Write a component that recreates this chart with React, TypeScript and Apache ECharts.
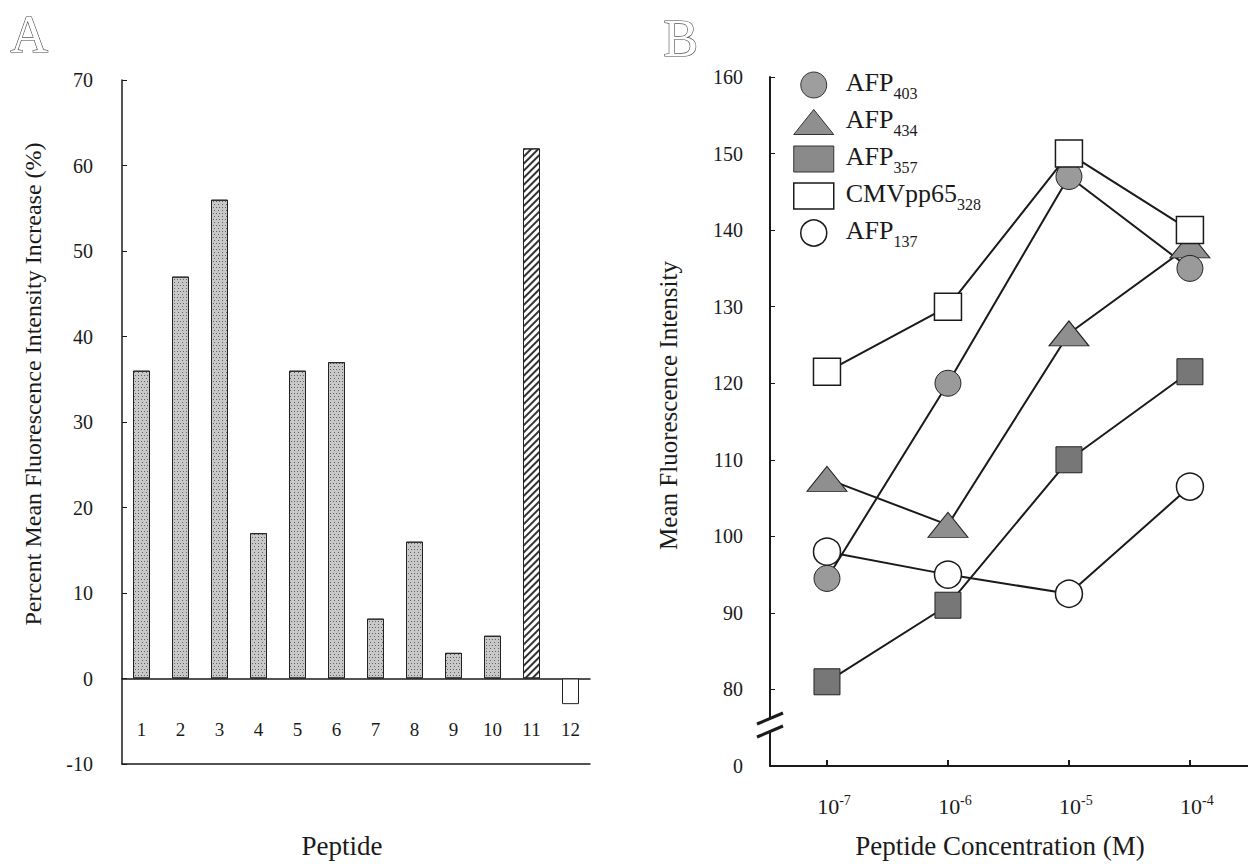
import React, { useEffect, useRef } from "react";
import * as echarts from "echarts";

// ---- Panel A data ----
const peptides = ["1", "2", "3", "4", "5", "6", "7", "8", "9", "10", "11", "12"];
const mfiIncrease = [36, 47, 56, 17, 36, 37, 7, 16, 3, 5, 62, -3];
const yTicksA = { min: -10, max: 70, step: 10 };

// ---- Panel B data ----
const concExponents = [-7, -6, -5, -4]; // log10 of peptide concentration (M)
const afp403 = [94.5, 120, 147, 135];
const afp434 = [107.5, 101.5, 126.5, 138];
const afp357 = [81, 91, 110, 121.5];
const cmvpp65 = [121.5, 130, 150, 140];
const afp137 = [98, 95, 92.5, 106.5];
const yTicksB = [80, 90, 100, 110, 120, 130, 140, 150, 160];

const FONT = "'Liberation Serif', 'Times New Roman', serif";
const INK = "#1a1a1a";

const legendNames: Record<string, [string, string]> = {
  AFP403: ["AFP", "403"],
  AFP434: ["AFP", "434"],
  AFP357: ["AFP", "357"],
  CMVpp65328: ["CMVpp65", "328"],
  AFP137: ["AFP", "137"],
};

const stipple = {
  symbol: "rect",
  symbolSize: 1,
  dashArrayX: [[1, 1.5], [0, 1.25, 1, 0.25]],
  dashArrayY: [1, 1.2],
  color: "rgba(30,30,30,0.6)",
};

export default function App() {
  const ref = useRef<HTMLDivElement>(null);
  useEffect(() => {
    if (!ref.current) return;
    const chart = echarts.init(ref.current, null, { renderer: "svg" });

    const barData = mfiIncrease.map((v, i) => {
      if (i === 10) {
        return {
          value: v,
          itemStyle: {
            color: "#ffffff",
            decal: {
              symbol: "rect",
              symbolSize: 1,
              dashArrayX: [1, 0],
              dashArrayY: [1.5, 3],
              rotation: -Math.PI / 4,
              color: "#333",
            },
          },
        };
      }
      if (v < 0) return { value: v, itemStyle: { color: "#ffffff" } };
      return { value: v, itemStyle: { color: "#c8c8c8", decal: stipple } };
    });

    const mk = (arr: number[]) => concExponents.map((x, i) => [x, arr[i]]);
    const lineCommon = {
      type: "line",
      xAxisIndex: 2,
      yAxisIndex: 1,
      lineStyle: { color: INK, width: 2 },
      z: 3,
    };

    chart.setOption({
      animation: false,
      backgroundColor: "#ffffff",
      textStyle: { fontFamily: FONT, color: INK },
      grid: [
        { left: 122, top: 80, width: 468, height: 685 },
        { left: 770, top: 77, width: 478, height: 689 },
      ],
      xAxis: [
        {
          type: "category",
          gridIndex: 0,
          data: peptides,
          axisLine: { onZero: true, lineStyle: { color: INK, width: 1.5 } },
          axisTick: { show: false },
          axisLabel: { margin: -44, fontSize: 19, color: INK, fontFamily: FONT },
          splitLine: { show: false },
        },
        {
          type: "category",
          gridIndex: 0,
          data: peptides,
          position: "bottom",
          axisLine: { onZero: false, lineStyle: { color: INK, width: 1.5 } },
          axisTick: { show: false },
          axisLabel: { show: false },
          name: "Peptide",
          nameLocation: "middle",
          nameGap: 68,
          nameTextStyle: { fontSize: 27, color: INK, fontFamily: FONT, padding: [0, 28, 0, 0] },
        },
        {
          type: "value",
          gridIndex: 1,
          min: -7.471,
          max: -3.52,
          axisLine: { onZero: false, lineStyle: { color: INK, width: 2 } },
          axisTick: { inside: true, length: 6, customValues: concExponents, lineStyle: { color: INK, width: 2 } },
          axisLabel: {
            customValues: concExponents,
            margin: 27,
            fontSize: 22,
            padding: [0, 0, 0, 14],
            formatter: (v: number) => `{b|10}{s|${v}}`,
            rich: {
              b: { fontSize: 22, fontFamily: FONT, color: INK, verticalAlign: "bottom" },
              s: { fontSize: 14, fontFamily: FONT, color: INK, verticalAlign: "bottom", padding: [0, 0, 10, 0] },
            },
          },
          splitLine: { show: false },
          name: "Peptide Concentration (M)",
          nameLocation: "middle",
          nameGap: 66,
          nameTextStyle: { fontSize: 27, color: INK, fontFamily: FONT, padding: [0, 18, 0, 0] },
        },
      ],
      yAxis: [
        {
          type: "value",
          gridIndex: 0,
          min: yTicksA.min,
          max: yTicksA.max,
          interval: yTicksA.step,
          axisLine: { show: true, lineStyle: { color: INK, width: 1.5 } },
          axisTick: { show: true, inside: true, length: 5, lineStyle: { color: INK } },
          axisLabel: { margin: 29, fontSize: 20, color: INK, fontFamily: FONT },
          splitLine: { show: false },
          name: "Percent Mean Fluorescence Intensity Increase (%)",
          nameLocation: "middle",
          nameRotate: 90,
          nameGap: 77,
          nameTextStyle: { fontSize: 24, color: INK, fontFamily: FONT, padding: [0, 0, 0, 76] },
        },
        {
          type: "value",
          gridIndex: 1,
          min: 70,
          max: 160,
          interval: 10,
          axisLine: { show: true, lineStyle: { color: INK, width: 2 } },
          axisTick: { show: true, inside: true, length: 5, customValues: yTicksB, lineStyle: { color: INK } },
          axisLabel: {
            margin: 27,
            fontSize: 20,
            color: INK,
            fontFamily: FONT,
            formatter: (v: number) => (v === 70 ? "0" : String(v)),
          },
          splitLine: { show: false },
          name: "Mean Fluorescence Intensity",
          nameLocation: "middle",
          nameRotate: 90,
          nameGap: 89,
          nameTextStyle: { fontSize: 25, color: INK, fontFamily: FONT, padding: [0, 0, 0, 32] },
        },
      ],
      legend: {
        orient: "vertical",
        left: 788,
        top: 64,
        itemWidth: 40,
        itemHeight: 26,
        itemGap: 5,
        symbolKeepAspect: true,
        selectedMode: false,
        formatter: (name: string) => {
          const p = legendNames[name] || [name, ""];
          return `{a|${p[0]}}{s|${p[1]}}`;
        },
        textStyle: {
          padding: [0, 0, 0, 7],
          rich: {
            a: { fontSize: 26, fontFamily: FONT, color: INK, verticalAlign: "bottom", padding: [0, 0, 6, 0] },
            s: { fontSize: 16, fontFamily: FONT, color: INK, verticalAlign: "bottom" },
          },
        },
        data: [
          { name: "AFP403", icon: "circle", itemStyle: { color: "#9e9e9e", borderColor: "#333", borderWidth: 1 } },
          { name: "AFP434", icon: "path://M20,0 L40,25 L0,25 Z", itemStyle: { color: "#8f8f8f", borderColor: "#333", borderWidth: 1 } },
          { name: "AFP357", icon: "rect", itemStyle: { color: "#8a8a8a", borderColor: "#333", borderWidth: 1 } },
          { name: "CMVpp65328", icon: "rect", itemStyle: { color: "#ffffff", borderColor: INK, borderWidth: 1.5 } },
          { name: "AFP137", icon: "circle", itemStyle: { color: "#ffffff", borderColor: INK, borderWidth: 1.5 } },
        ],
      },
      graphic: [
        {
          type: "text",
          left: 10,
          top: 8,
          style: { text: "A", font: `52px ${FONT}`, fill: "#ffffff", stroke: "#444", lineWidth: 1.2 },
        },
        {
          type: "text",
          left: 663,
          top: 12,
          style: { text: "B", font: `52px ${FONT}`, fill: "#ffffff", stroke: "#444", lineWidth: 1.2 },
        },
        // axis break on panel B's y axis
        { type: "rect", shape: { x: 764, y: 719, width: 12, height: 13 }, style: { fill: "#fff" }, z: 50 },
        { type: "line", shape: { x1: 757, y1: 724, x2: 783, y2: 713 }, style: { stroke: INK, lineWidth: 3 }, z: 51 },
        { type: "line", shape: { x1: 757, y1: 737, x2: 783, y2: 726 }, style: { stroke: INK, lineWidth: 3 }, z: 51 },
      ],
      series: [
        {
          type: "bar",
          xAxisIndex: 0,
          yAxisIndex: 0,
          data: barData,
          barWidth: 17,
          itemStyle: { borderColor: "#222", borderWidth: 1 },
        },
        {
          ...lineCommon,
          name: "AFP137",
          data: mk(afp137),
          symbol: "circle",
          symbolSize: 27,
          itemStyle: { color: "#ffffff", borderColor: INK, borderWidth: 1.5 },
        },
        {
          ...lineCommon,
          name: "AFP357",
          data: mk(afp357),
          symbol: "rect",
          symbolSize: 26,
          itemStyle: { color: "#777777", borderColor: "#222", borderWidth: 1 },
        },
        {
          ...lineCommon,
          name: "AFP434",
          data: mk(afp434),
          symbol: "triangle",
          symbolSize: [40, 25],
          itemStyle: { color: "#8f8f8f", borderColor: "#222", borderWidth: 1 },
        },
        {
          ...lineCommon,
          name: "AFP403",
          data: mk(afp403),
          symbol: "circle",
          symbolSize: 26,
          itemStyle: { color: "#9a9a9a", borderColor: "#222", borderWidth: 1 },
        },
        {
          ...lineCommon,
          name: "CMVpp65328",
          data: mk(cmvpp65),
          symbol: "rect",
          symbolSize: 27,
          itemStyle: { color: "#ffffff", borderColor: INK, borderWidth: 1.5 },
        },
      ],
    });
    return () => chart.dispose();
  }, []);
  return (
    <div
      ref={ref}
      style={{ position: "absolute", left: 0, top: 0, width: 1248, height: 864, background: "#fff" }}
    />
  );
}
